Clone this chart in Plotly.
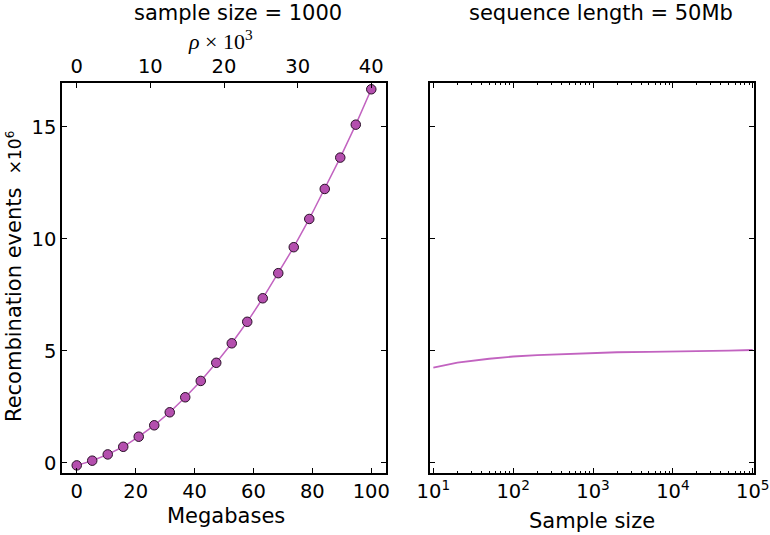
import plotly.graph_objects as go

# ---- data ----
megabases = [0.0, 5.26, 10.53, 15.79, 21.05, 26.32, 31.58, 36.84, 42.11, 47.37,
             52.63, 57.89, 63.16, 68.42, 73.68, 78.95, 84.21, 89.47, 94.74, 100.0]
recomb_events = [-0.12, 0.09, 0.37, 0.71, 1.16, 1.67, 2.25, 2.92, 3.65, 4.46,
                 5.33, 6.29, 7.34, 8.46, 9.62, 10.88, 12.22, 13.62, 15.09, 16.67]

sample_sizes = [10, 20, 50, 100, 200, 500, 1000, 2000, 5000, 10000, 20000, 50000, 100000]
recomb_by_n = [4.24, 4.47, 4.64, 4.74, 4.80, 4.86, 4.90, 4.93, 4.95, 4.96, 4.98, 5.00, 5.03]

mb_ticks = [0, 20, 40, 60, 80, 100]
rho_ticks = [0, 10, 20, 30, 40]
y_ticks = [0, 5, 10, 15]
n_ticks = [10, 100, 1000, 10000, 100000]
n_ticktext = ["10<sup>1</sup>", "10<sup>2</sup>", "10<sup>3</sup>", "10<sup>4</sup>", "10<sup>5</sup>"]
n_minor = [k * 10 ** e for e in range(1, 5) for k in range(2, 10)]

LINE = "#c263c0"
FILL = "#b44fae"
EDGE = "#2a1028"
FONT = "DejaVu Sans"
W, H = 770, 535

def px(x):
    return x / W

def py(y):
    return (H - y) / H

fig = go.Figure()
fig.add_trace(go.Scatter(
    x=megabases, y=recomb_events, mode="lines+markers",
    line=dict(color=LINE, width=1.5),
    marker=dict(size=9.5, color=FILL, line=dict(color=EDGE, width=1)),
    xaxis="x", yaxis="y", showlegend=False))
# invisible companion trace so the top (rho) axis is drawn
fig.add_trace(go.Scatter(
    x=[m * 0.4 for m in megabases], y=recomb_events, mode="markers",
    marker=dict(opacity=0), hoverinfo="skip",
    xaxis="x3", yaxis="y", showlegend=False))
fig.add_trace(go.Scatter(
    x=sample_sizes, y=recomb_by_n, mode="lines",
    line=dict(color=LINE, width=1.8),
    xaxis="x2", yaxis="y2", showlegend=False))

ydom = [py(473), py(83)]
common = dict(showgrid=False, zeroline=False, showline=True, linecolor="black",
              linewidth=1.5, ticks="inside", ticklen=5, tickwidth=1, tickcolor="black",
              automargin=False,
              tickfont=dict(family=FONT, size=19.5, color="black"))

fig.update_layout(
    width=W, height=H, margin=dict(l=0, r=0, t=0, b=0, autoexpand=False),
    paper_bgcolor="white", plot_bgcolor="white",
    font=dict(family=FONT, color="black"),
    xaxis=dict(domain=[px(62), px(386)], range=[-5, 105], tickmode="array",
               tickvals=mb_ticks, anchor="y", mirror=True, **common),
    xaxis3=dict(overlaying="x", side="top", anchor="y", range=[-2, 42],
                tickmode="array", tickvals=rho_ticks, ticklabelstandoff=5,
                **{**common, "showline": False}),
    yaxis=dict(domain=ydom, range=[-0.46, 16.95], tickmode="array", tickvals=y_ticks,
               anchor="x", mirror="ticks", **common),
    xaxis2=dict(domain=[px(430), px(754)], type="log", range=[0.958, 5.016],
                tickmode="array", tickvals=n_ticks, ticktext=n_ticktext,
                anchor="y2", mirror="ticks",
                minor=dict(ticks="inside", ticklen=2.5, tickcolor="black",
                           tickmode="array", tickvals=n_minor, showgrid=False),
                **common),
    yaxis2=dict(domain=ydom, matches="y", range=[-0.46, 16.95], tickmode="array",
                tickvals=y_ticks, showticklabels=False, anchor="x2", mirror="ticks",
                **common),
)

ann = [
    dict(text="sample size = 1000", x=px(237.5), y=py(13), size=21),
    dict(text="sequence length = 50Mb", x=px(600.5), y=py(13), size=21),
    dict(text="Megabases", x=px(226), y=py(516), size=21),
    dict(text="Sample size", x=px(592), y=py(521), size=21),
]
for a in ann:
    fig.add_annotation(text=a["text"], x=a["x"], y=a["y"], xref="paper", yref="paper",
                       xanchor="center", yanchor="middle", showarrow=False,
                       font=dict(family=FONT, size=a["size"], color="black"))

fig.add_annotation(text="<i>ρ</i> × 10<sup>3</sup>", x=px(220), y=py(40),
                   xref="paper", yref="paper", xanchor="center", yanchor="middle",
                   showarrow=False, font=dict(family="Liberation Serif", size=22, color="black"))

fig.add_annotation(text="Recombination events  <span style='font-size:17px'>×10<sup>6</sup></span>",
                   x=px(14), y=py(277), xref="paper", yref="paper", textangle=-90,
                   xanchor="center", yanchor="middle", showarrow=False,
                   font=dict(family=FONT, size=21, color="black"))

fig.write_html("out.html", config={"displayModeBar": False},
               post_script="document.body.style.margin='0';document.body.style.overflow='hidden';")
